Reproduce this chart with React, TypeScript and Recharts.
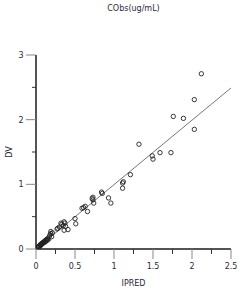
import React from 'react';
import { ScatterChart, Scatter, XAxis, YAxis, ReferenceLine } from 'recharts';

const ipredValues = [
  0.02, 0.03, 0.035, 0.04, 0.05, 0.05, 0.06, 0.06, 0.07, 0.07, 0.08, 0.08, 0.09, 0.09, 0.1,
  0.1, 0.11, 0.12, 0.12, 0.13, 0.14, 0.14, 0.15, 0.16, 0.17, 0.18, 0.19, 0.2, 0.19, 0.21,
  0.27, 0.28, 0.3, 0.32, 0.33, 0.35, 0.36, 0.37, 0.38, 0.36, 0.41, 0.5, 0.51,
  0.59, 0.63, 0.61, 0.66, 0.72, 0.73, 0.73, 0.74, 0.84, 0.85, 0.93, 0.96,
  1.11, 1.12, 1.11, 1.21, 1.32, 1.49, 1.5, 1.59, 1.73, 1.76, 1.89, 2.03, 2.03, 2.12,
];
const dvValues = [
  0.02, 0.03, 0.04, 0.035, 0.05, 0.06, 0.055, 0.07, 0.07, 0.08, 0.08, 0.09, 0.09, 0.1, 0.1,
  0.11, 0.12, 0.11, 0.13, 0.14, 0.13, 0.15, 0.16, 0.15, 0.19, 0.22, 0.24, 0.19, 0.27, 0.25,
  0.31, 0.32, 0.34, 0.4, 0.38, 0.36, 0.42, 0.4, 0.35, 0.29, 0.3, 0.47, 0.39,
  0.63, 0.66, 0.64, 0.58, 0.78, 0.8, 0.76, 0.71, 0.88, 0.86, 0.79, 0.71,
  1.02, 1.04, 0.94, 1.15, 1.62, 1.44, 1.39, 1.49, 1.49, 2.05, 2.02, 2.31, 1.85, 2.71,
];
const fitLine = [
  { x: 0, y: 0 },
  { x: 2.5, y: 2.49 },
];
const xTicks = [0, 0.25, 0.5, 0.75, 1, 1.25, 1.5, 1.75, 2, 2.25, 2.5];
const xMajor = [0, 0.5, 1, 1.5, 2, 2.5];
const yTicks = [0, 0.5, 1, 1.5, 2, 2.5, 3];
const yMajor = [0, 1, 2, 3];

const title = 'CObs(ug/mL)';
const xLabel = 'IPRED';
const yLabel = 'DV';

const data = ipredValues.map((x, i) => ({ x, y: dvValues[i] }));

const FONT = '"DejaVu Sans", sans-serif';
const TXT = '#2a2a3a';

const XTick = (props: any) => {
  const { x, y, payload } = props;
  const major = xMajor.includes(payload.value);
  return (
    <g>
      <line x1={x} x2={x} y1={y} y2={y + (major ? 10 : 5)} stroke={major ? '#888' : '#333'} strokeWidth={1} />
      {major && (
        <text x={x} y={y + 20} textAnchor="middle" fontSize={8} fontFamily={FONT} fill={TXT}>
          {payload.value}
        </text>
      )}
    </g>
  );
};

const YTick = (props: any) => {
  const { x, y, payload } = props;
  const major = yMajor.includes(payload.value);
  return (
    <g>
      <line x1={x} x2={x - (major ? 10 : 4)} y1={y} y2={y} stroke={major ? '#888' : '#333'} strokeWidth={1} />
      {major && (
        <text x={x - 12.5} y={y + 3} textAnchor="end" fontSize={8} fontFamily={FONT} fill={TXT}>
          {payload.value}
        </text>
      )}
    </g>
  );
};

const Dot = (props: any) => {
  const { cx, cy } = props;
  return <circle cx={cx} cy={cy} r={2.2} fill="none" stroke="#222" strokeWidth={0.9} />;
};

export default function App() {
  return (
    <div style={{ position: 'absolute', left: 0, top: 0, width: 249, height: 294, background: '#fff' }}>
      <div
        style={{
          position: 'absolute',
          left: 36,
          top: 4,
          width: 195,
          textAlign: 'center',
          fontFamily: FONT,
          fontSize: 8,
          lineHeight: '10px',
          color: TXT,
        }}
      >
        {title}
      </div>
      <ScatterChart width={249} height={294} margin={{ top: 55, right: 18, bottom: 0, left: 0 }}>
        <XAxis
          type="number"
          dataKey="x"
          domain={[0, 2.5]}
          ticks={xTicks}
          interval={0}
          height={45}
          tickSize={0}
          tickMargin={0}
          tickLine={false}
          tick={<XTick />}
          axisLine={{ stroke: '#555', strokeWidth: 2 }}
          allowDataOverflow
          label={{
            content: (p: any) => (
              <text
                x={p.viewBox.x + p.viewBox.width / 2}
                y={p.viewBox.y + 37}
                textAnchor="middle"
                fontSize={8}
                fontFamily={FONT}
                fill={TXT}
              >
                {xLabel}
              </text>
            ),
          }}
        />
        <YAxis
          type="number"
          dataKey="y"
          domain={[0, 3]}
          ticks={yTicks}
          interval={0}
          width={36}
          tickSize={0}
          tickMargin={0}
          tickLine={false}
          tick={<YTick />}
          axisLine={{ stroke: '#555', strokeWidth: 2 }}
          allowDataOverflow
          label={{
            content: (p: any) => {
              const cy = p.viewBox.y + p.viewBox.height / 2;
              return (
                <text
                  x={9}
                  y={cy}
                  transform={`rotate(-90, 9, ${cy})`}
                  textAnchor="middle"
                  dominantBaseline="central"
                  fontSize={8}
                  fontFamily={FONT}
                  fill={TXT}
                >
                  {yLabel}
                </text>
              );
            },
          }}
        />
        <ReferenceLine segment={fitLine} stroke="#666" strokeWidth={0.9} ifOverflow="visible" />
        <Scatter data={data} shape={<Dot />} isAnimationActive={false} />
      </ScatterChart>
    </div>
  );
}
